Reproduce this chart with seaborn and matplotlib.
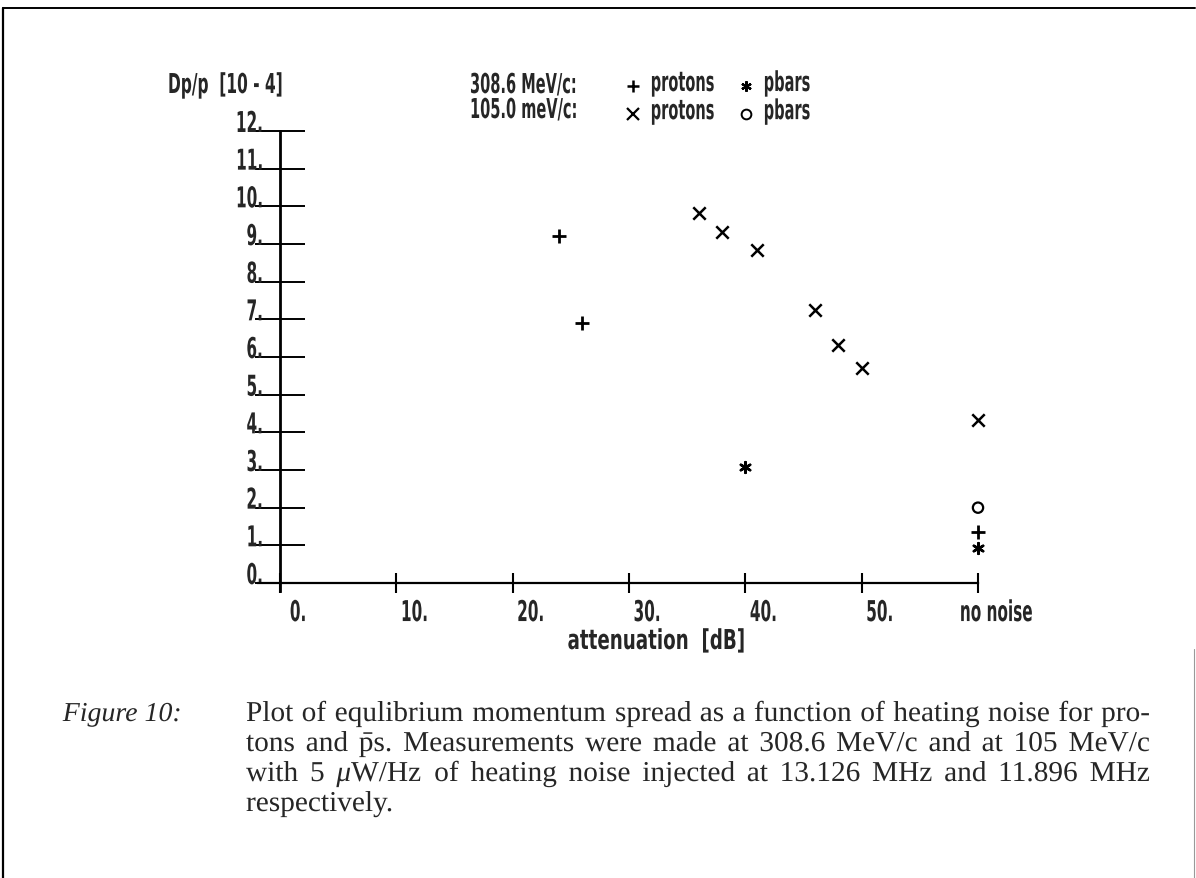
import numpy as np
import pandas as pd
import matplotlib
matplotlib.use("Agg")
import matplotlib.pyplot as plt
import matplotlib.transforms as mtransforms
from matplotlib.transforms import Affine2D
from matplotlib.lines import Line2D
from matplotlib import patheffects
import seaborn as sns

# ---------------- data ----------------
p308_protons_x = [24, 26, 60]
p308_protons_y = [9.2, 6.9, 1.35]
p308_pbars_x = [40, 60]
p308_pbars_y = [3.08, 0.93]
p105_protons_x = [36, 38, 41, 46, 48, 50, 60]
p105_protons_y = [9.83, 9.31, 8.83, 7.24, 6.32, 5.72, 4.32]
p105_pbars_x = [60]
p105_pbars_y = [2.0]

x_ticks = [0, 10, 20, 30, 40, 50, 60]
x_tick_labels = ["0.", "10.", "20.", "30.", "40.", "50.", "no noise"]
y_ticks = list(range(0, 13))
y_tick_labels = [f"{v}." for v in y_ticks]

caption_label = "Figure 10:"
caption_lines = [
    "Plot of equlibrium momentum spread as a function of heating noise for pro-",
    r"tons and $\bar{\mathrm{p}}$s.  Measurements were made at 308.6 MeV/c and at 105 MeV/c",
    r"with 5 $\mu$W/Hz of heating noise injected at 13.126 MHz and 11.896 MHz",
    "respectively.",
]

# ---------------- style ----------------
sns.set_theme(style="white")
PLOT_FONT = ["DejaVu Sans"]
SERIF = ["Liberation Serif", "DejaVu Serif"]
plt.rcParams["font.family"] = PLOT_FONT
plt.rcParams["mathtext.fontset"] = "custom"
plt.rcParams["mathtext.rm"] = "Liberation Serif"
plt.rcParams["mathtext.it"] = "Liberation Serif:italic"

W, H = 1196, 879
fig = plt.figure(figsize=(W / 100, H / 100), dpi=100)
fig.patch.set_facecolor("white")
renderer = fig.canvas.get_renderer()


def fx(px):
    return px / W


def fy(py):
    return 1 - py / H


class Stretch(patheffects.AbstractPathEffect):
    """Draw glyph outlines stretched vertically about the baseline (tall plotter lettering)."""

    def __init__(self, sy=1.0):
        super().__init__()
        self.sy = sy

    def draw_path(self, renderer, gc, tpath, affine, rgbFace=None):
        renderer.draw_path(gc, tpath, Affine2D().scale(1.0, self.sy) + affine, rgbFace)


def measure(s, **kw):
    t = fig.text(0, 0, s, **kw)
    w = t.get_window_extent(renderer).width
    t.remove()
    return w


def stretch_for(size_pt, cap_px, cap_em=0.73):
    return cap_px / (cap_em * size_pt * 100 / 72)


PF = dict(family=PLOT_FONT, weight="bold")
PSIZE = 10.5
PFX = [Stretch(stretch_for(PSIZE, 20.0))]

# axes placement: data x 0 -> 280px, 60 -> 978px ; y 0 -> 584px, 12 -> 132px
xpp = (978 - 280) / 60.0
ypp = (584 - 132) / 12.0
xmin, xmax = -8, 68
ymin, ymax = -1.5, 13
left_px = 280 + xmin * xpp
right_px = 280 + xmax * xpp
bot_px = 584 - ymin * ypp
top_px = 584 - ymax * ypp
ax = fig.add_axes([fx(left_px), fy(bot_px), (right_px - left_px) / W, (bot_px - top_px) / H])
ax.set_facecolor("none")
ax.set_xlim(xmin, xmax)
ax.set_ylim(ymin, ymax)

df = pd.concat([
    pd.DataFrame({"att": p308_protons_x, "dp": p308_protons_y, "series": "308 protons"}),
    pd.DataFrame({"att": p308_pbars_x, "dp": p308_pbars_y, "series": "308 pbars"}),
    pd.DataFrame({"att": p105_protons_x, "dp": p105_protons_y, "series": "105 protons"}),
    pd.DataFrame({"att": p105_pbars_x, "dp": p105_pbars_y, "series": "105 pbars"}),
])

marker_styles = {
    "308 protons": dict(marker="+", s=110, linewidths=2.0),
    "308 pbars": dict(marker=(6, 2, 0), s=60, linewidths=1.8),
    "105 protons": dict(marker="x", s=80, linewidths=1.8),
    "105 pbars": dict(marker="o", s=55, linewidths=1.6),
}
for name, kw in marker_styles.items():
    sub = df[df["series"] == name]
    if name == "105 pbars":
        sns.scatterplot(data=sub, x="att", y="dp", ax=ax, marker="o", s=kw["s"],
                        facecolor="none", edgecolor="black", linewidth=kw["linewidths"],
                        legend=False, clip_on=False)
    else:
        sns.scatterplot(data=sub, x="att", y="dp", ax=ax, marker=kw["marker"], s=kw["s"],
                        color="black", linewidth=kw["linewidths"], legend=False, clip_on=False)

# spines as the crossing axes
for side in ["top", "right"]:
    ax.spines[side].set_visible(False)
ax.spines["left"].set_position(("data", 0))
ax.spines["bottom"].set_position(("data", 0))
ax.spines["left"].set_bounds(-0.22, 12)
ax.spines["bottom"].set_bounds(-1.9, 60)
ax.spines["left"].set_linewidth(2.0)
ax.spines["bottom"].set_linewidth(1.6)
ax.spines["left"].set_color("black")
ax.spines["bottom"].set_color("black")

ax.set_xticks(x_ticks)
ax.set_xticklabels(x_tick_labels)
ax.set_yticks(y_ticks)
ax.set_yticklabels(y_tick_labels)
ax.tick_params(axis="y", direction="inout", length=36, width=1.4, color="black",
               pad=-2, labelsize=PSIZE + 0.5, left=True)
ax.tick_params(axis="x", direction="inout", length=14, width=1.5, color="black",
               pad=6, labelsize=PSIZE + 0.5, bottom=True)
for lab in ax.get_xticklabels():
    lab.set_fontweight("bold")
    lab.set_horizontalalignment("center")
    lab.set_verticalalignment("baseline")
    lab.set_path_effects(PFX)
    lab.set_transform(lab.get_transform() + mtransforms.ScaledTranslation(0.18, -0.20, fig.dpi_scale_trans))
for lab in ax.get_yticklabels():
    lab.set_fontweight("bold")
    lab.set_verticalalignment("baseline")
    lab.set_path_effects(PFX)
    lab.set_transform(lab.get_transform() + mtransforms.ScaledTranslation(0.05, -0.01, fig.dpi_scale_trans))

xlab = "attenuation  [dB]"
XLSIZE = 10 * 178 / measure(xlab, fontsize=10, **PF)
ax.set_xlabel(xlab, fontsize=XLSIZE, fontweight="bold")
ax.xaxis.set_label_coords((656 - left_px) / (right_px - left_px), (bot_px - 650) / (bot_px - top_px))
ax.xaxis.label.set_va("baseline")
ax.xaxis.label.set_path_effects([Stretch(stretch_for(XLSIZE, 20.0))])
ax.set_ylabel("")

# header texts
hdr = "Dp/p  [10 - 4]"
HSIZE = 10 * 115 / measure(hdr, fontsize=10, **PF)
fig.text(fx(168), fy(94), hdr, fontsize=HSIZE, va="baseline", ha="left",
         path_effects=[Stretch(stretch_for(HSIZE, 20.0))], **PF)
fig.text(fx(470), fy(94), "308.6 MeV/c:", fontsize=PSIZE, va="baseline", ha="left",
         path_effects=PFX, **PF)
fig.text(fx(470), fy(119), "105.0 meV/c:", fontsize=PSIZE, va="baseline", ha="left",
         path_effects=PFX, **PF)

leg_prop = dict(family=PLOT_FONT, weight="bold", size=PSIZE)
h_plus = Line2D([], [], ls="", marker="+", ms=9, mew=1.8, color="black")
h_x = Line2D([], [], ls="", marker="x", ms=8, mew=1.6, color="black")
h_star = Line2D([], [], ls="", marker=(6, 2, 0), ms=7.5, mew=1.6, color="black")
h_o = Line2D([], [], ls="", marker="o", ms=7, mew=1.4, mfc="none", color="black")
leg_kw = dict(loc="upper left", frameon=False, prop=leg_prop, handlelength=1.4,
              handletextpad=0.5, labelspacing=0.9, borderpad=0, borderaxespad=0)
leg1 = fig.legend([h_plus, h_x], ["protons", "protons"],
                  bbox_to_anchor=(fx(623), fy(80)), **leg_kw)
leg2 = fig.legend([h_star, h_o], ["pbars", "pbars"],
                  bbox_to_anchor=(fx(736), fy(80)), **leg_kw)
for lg in (leg1, leg2):
    for t in lg.get_texts():
        t.set_path_effects(PFX)

# caption (serif, justified)
CF = dict(family=SERIF)
x0, x1 = 246, 1150
wl1 = measure(caption_lines[0], fontsize=10, **CF)
CSIZE = 10 * (x1 - x0 - 15) / wl1
CFX = [Stretch(stretch_for(CSIZE, 19.0, 0.66))]
fig.text(fx(182), fy(722), caption_label, fontsize=CSIZE * 0.95, style="italic", va="baseline",
         ha="right", path_effects=CFX, **CF)
baselines = [722, 752, 782, 812]
for i, line in enumerate(caption_lines):
    if i == len(caption_lines) - 1:
        fig.text(fx(x0), fy(baselines[i]), line, fontsize=CSIZE, va="baseline", ha="left",
                 path_effects=CFX, **CF)
        continue
    words = [w for w in line.split(" ") if w]
    texts = [fig.text(0, fy(baselines[i]), w, fontsize=CSIZE, va="baseline", ha="left",
                      path_effects=CFX, **CF) for w in words]
    widths = [t.get_window_extent(renderer).width for t in texts]
    gap = (x1 - x0 - sum(widths)) / (len(words) - 1)
    xpos = x0
    for t, wd in zip(texts, widths):
        t.set_x(fx(xpos))
        xpos += wd + gap

# page frame
fig.add_artist(Line2D([fx(3), fx(3)], [fy(9), fy(879)], color="black", lw=1.6))
fig.add_artist(Line2D([fx(3), fx(1195)], [fy(9), fy(9)], color="black", lw=1.4))
fig.add_artist(Line2D([fx(1194), fx(1194)], [fy(650), fy(879)], color="#999999", lw=0.8))

fig.savefig("out.png", dpi=100)
